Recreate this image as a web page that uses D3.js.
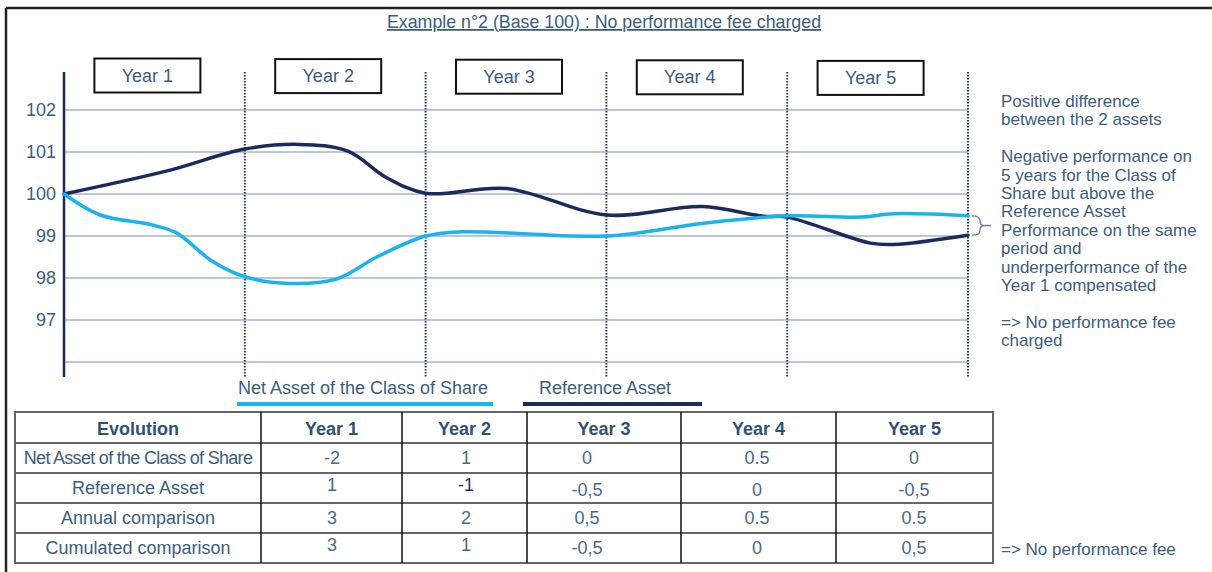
<!DOCTYPE html>
<html>
<head>
<meta charset="utf-8">
<style>
  body { margin: 0; background: #ffffff; }
  svg { display: block; font-family: "Liberation Sans", Arial, sans-serif; }
  .txt { fill: #3b5d7e; }
</style>
</head>
<body>
<script src="https://cdn.jsdelivr.net/npm/d3@7"></script>
<script>
// --- data ---
var years = ["Year 1", "Year 2", "Year 3", "Year 4", "Year 5"];
var yTicks = [102, 101, 100, 99, 98, 97];
var gridValues = [102, 101, 100, 99, 98, 97, 96];

// time in years (0..5) and base-100 value
var netT = [0, 0.2, 0.48, 0.62, 0.82, 1.0, 1.25, 1.51, 1.73, 2.0, 2.2, 3.0, 3.53, 4.0, 4.4, 4.59, 5.0];
var netV = [100, 99.5, 99.27, 99.08, 98.4, 98.03, 97.87, 97.98, 98.5, 99.0, 99.1, 99.0, 99.3, 99.48, 99.45, 99.53, 99.48];
var refT = [0, 0.57, 1.0, 1.3, 1.57, 1.78, 2.0, 2.45, 3.0, 3.53, 3.87, 4.0, 4.46, 4.59, 5.0];
var refV = [100, 100.55, 101.07, 101.18, 101.02, 100.4, 100.02, 100.13, 99.5, 99.7, 99.47, 99.45, 98.83, 98.8, 99.02];

var legendNames = ["Net Asset of the Class of Share", "Reference Asset"];

var tableHeader = ["Evolution", "Year 1", "Year 2", "Year 3", "Year 4", "Year 5"];
var rowLabels = ["Net Asset of the Class of Share", "Reference Asset", "Annual comparison", "Cumulated comparison"];
var netRow = ["-2", "1", "0", "0.5", "0"];
var refRow = ["1", "-1", "-0,5", "0", "-0,5"];
var annualRow = ["3", "2", "0,5", "0.5", "0.5"];
var cumulRow = ["3", "1", "-0,5", "0", "0,5"];

var noteLines = ["Positive difference", "between the 2 assets", "",
  "Negative performance on", "5 years for the Class of", "Share but above the",
  "Reference Asset", "Performance on the same", "period and",
  "underperformance of the", "Year 1 compensated", "",
  "=> No performance fee", "charged"];

var title = "Example n°2 (Base 100) : No performance fee charged";
var footNote = "=> No performance fee";

// --- setup ---
var W = 1212, H = 572;
var navy = "#1b2b5e", light = "#19b4ee";

var svg = d3.select("body").append("svg").attr("width", W).attr("height", H);

// outer frame (left + top edges visible)
svg.append("line").attr("x1", 6).attr("x2", 6).attr("y1", 8).attr("y2", H)
  .attr("stroke", "#222").attr("stroke-width", 2.5);
svg.append("line").attr("x1", 6).attr("x2", W).attr("y1", 8).attr("y2", 8)
  .attr("stroke", "#222").attr("stroke-width", 2.5);

// title
svg.append("text").attr("class", "txt").attr("x", 604).attr("y", 28)
  .attr("text-anchor", "middle").style("font-size", "17.8px")
  .style("text-decoration", "underline").text(title);

var x = d3.scaleLinear().domain([0, 5]).range([64, 968]);
var y = d3.scaleLinear().domain([96, 102]).range([362, 110]);

// grid
svg.selectAll(".grid").data(gridValues).enter().append("line")
  .attr("x1", x(0)).attr("x2", x(5))
  .attr("y1", function(d){ return y(d); }).attr("y2", function(d){ return y(d); })
  .attr("stroke", "#bcc6d6").attr("stroke-width", 2);

// y labels
svg.selectAll(".ylab").data(yTicks).enter().append("text").attr("class", "txt")
  .attr("x", 56).attr("y", function(d){ return y(d) + 6; })
  .attr("text-anchor", "end").style("font-size", "18px")
  .text(function(d){ return d; });

// dotted year boundaries
svg.selectAll(".sep").data(d3.range(1, 6)).enter().append("line")
  .attr("x1", function(d){ return x(d); }).attr("x2", function(d){ return x(d); })
  .attr("y1", 72).attr("y2", 377)
  .attr("stroke", "#2a3a68").attr("stroke-width", 2).attr("stroke-dasharray", "1.5,1.5");

// y axis line
svg.append("line").attr("x1", x(0)).attr("x2", x(0)).attr("y1", 72).attr("y2", 377)
  .attr("stroke", navy).attr("stroke-width", 2.5);

// year boxes
var box = svg.selectAll(".ybox").data(years).enter().append("g")
  .attr("transform", function(d, i){ return "translate(" + (x(i + 0.5) - 7) + "," + (58.5 + i * 0.6) + ")"; });
box.append("rect").attr("x", -53).attr("y", 0).attr("width", 106).attr("height", 34)
  .attr("fill", "#fff").attr("stroke", "#111").attr("stroke-width", 2);
box.append("text").attr("class", "txt").attr("x", 0).attr("y", 23)
  .attr("text-anchor", "middle").style("font-size", "18px").text(function(d){ return d; });

// curves
var line = d3.line().curve(d3.curveCatmullRom.alpha(0.5))
  .x(function(d){ return x(d[0]); }).y(function(d){ return y(d[1]); });
var refPts = refT.map(function(v, i){ return [v, refV[i]]; });
var netPts = netT.map(function(v, i){ return [v, netV[i]]; });
svg.append("path").attr("d", line(refPts)).attr("fill", "none")
  .attr("stroke", navy).attr("stroke-width", 3.5).attr("stroke-linecap", "round");
svg.append("path").attr("d", line(netPts)).attr("fill", "none")
  .attr("stroke", light).attr("stroke-width", 3.5).attr("stroke-linecap", "round");

// brace between the two end values
var bTop = y(netV[netV.length - 1]), bBot = y(refV[refV.length - 1]), bx = 972;
var bMid = (bTop + bBot) / 2;
var brace = "M" + bx + "," + bTop + " q8,0 8,5 v" + (bMid - bTop - 9) + " q0,4 5,4 h6" +
  " M" + (bx + 13) + "," + bMid + " q-5,0 -5,4 v" + (bBot - bMid - 9) + " q0,5 -8,5";
svg.append("path").attr("d", brace).attr("fill", "none").attr("stroke", "#6b7f99").attr("stroke-width", 1.3);

// right notes
svg.selectAll(".note").data(noteLines).enter().append("text").attr("class", "txt")
  .attr("x", 1001).attr("y", function(d, i){ return 107 + i * 18.4; })
  .style("font-size", "17px").text(function(d){ return d; });

// legend
var legend = [
  { name: legendNames[0], color: light, tx: 238, x1: 237, x2: 493 },
  { name: legendNames[1], color: navy, tx: 539, x1: 523, x2: 702 }
];
legend.forEach(function(l){
  svg.append("text").attr("class", "txt").attr("x", l.tx).attr("y", 394)
    .style("font-size", "18px").text(l.name);
  svg.append("line").attr("x1", l.x1).attr("x2", l.x2).attr("y1", 404).attr("y2", 404)
    .attr("stroke", l.color).attr("stroke-width", 4);
});

// table
var colEdges = [15, 261, 402, 527, 681, 836, 993];
var rowEdges = [412, 443, 473, 503, 533, 563];
var valueCenters = [null, 332, 466, 587, 757, 914];
var rows = [netRow, refRow, annualRow, cumulRow];
var tg = svg.append("g");

tg.append("rect").attr("x", colEdges[0]).attr("y", rowEdges[0])
  .attr("width", colEdges[6] - colEdges[0]).attr("height", rowEdges[5] - rowEdges[0])
  .attr("fill", "none").attr("stroke", "#555").attr("stroke-width", 1.8);
rowEdges.slice(1, 5).forEach(function(r){
  tg.append("line").attr("x1", colEdges[0]).attr("x2", colEdges[6]).attr("y1", r).attr("y2", r)
    .attr("stroke", "#666").attr("stroke-width", 1.8);
});
colEdges.slice(1, 6).forEach(function(c){
  tg.append("line").attr("x1", c).attr("x2", c).attr("y1", rowEdges[0]).attr("y2", rowEdges[5])
    .attr("stroke", "#111").attr("stroke-width", 1.5);
});

tableHeader.forEach(function(h, i){
  tg.append("text").attr("x", (colEdges[i] + colEdges[i + 1]) / 2).attr("y", rowEdges[0] + 23)
    .attr("text-anchor", "middle").attr("fill", "#2f5274").style("font-size", "18px")
    .style("font-weight", "bold").text(h);
});
rowLabels.forEach(function(lab, r){
  var cy = (rowEdges[r + 1] + rowEdges[r + 2]) / 2 + 6;
  tg.append("text").attr("class", "txt").attr("x", (colEdges[0] + colEdges[1]) / 2).attr("y", cy)
    .attr("text-anchor", "middle").style("font-size", "18px")
    .style("letter-spacing", r === 0 ? "-0.7px" : "0px").text(lab);
  rows[r].forEach(function(v, c){
    var dy = (r === 1 && c < 2) ? -3 : (r === 1 ? 2 : 0);
    if (r === 3 && c < 2) dy = -3;
    tg.append("text").attr("x", valueCenters[c + 1]).attr("y", cy + dy)
      .attr("text-anchor", "middle").style("font-size", "18px")
      .attr("fill", (r === 1 && c === 1) ? "#1f3560" : "#4a6b8a").text(v);
  });
});

svg.append("text").attr("class", "txt").attr("x", 1001).attr("y", 555)
  .style("font-size", "17px").text(footNote);
</script>
</body>
</html>
